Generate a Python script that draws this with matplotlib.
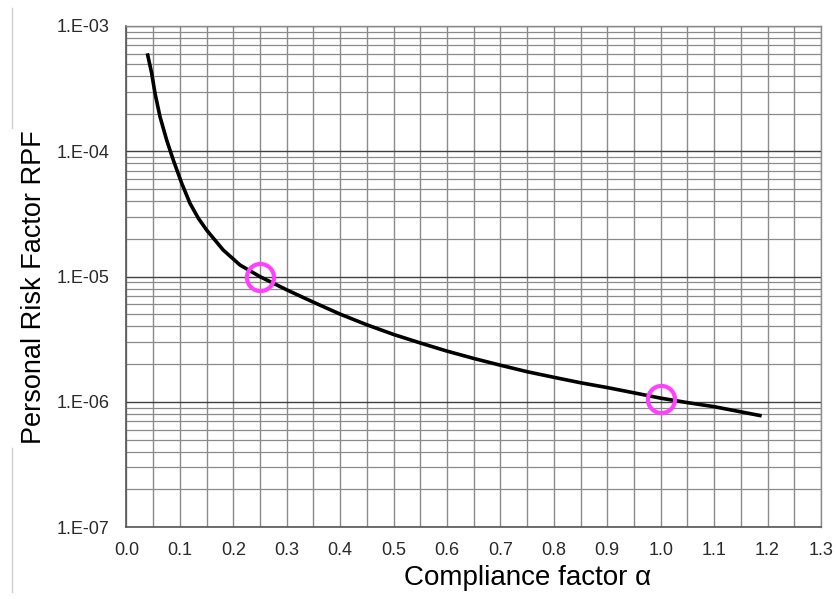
import matplotlib
matplotlib.use("Agg")
import matplotlib.pyplot as plt
from matplotlib.ticker import FixedLocator, MultipleLocator, LogLocator, NullFormatter
from matplotlib.lines import Line2D

plt.rcParams['font.family'] = ['Liberation Sans', 'DejaVu Sans']

# Curve
alpha = [0.039, 0.0472, 0.0534, 0.0627, 0.0753, 0.0876, 0.1034, 0.1189, 0.1345, 0.150,
         0.181, 0.2125, 0.25, 0.30, 0.35, 0.40, 0.45, 0.50, 0.55, 0.60,
         0.65, 0.70, 0.75, 0.80, 0.85, 0.90, 0.95, 1.00, 1.05, 1.10,
         1.15, 1.189]
rpf = [6.05e-4, 4.19e-4, 2.90e-4, 1.89e-4, 1.225e-4, 8.51e-5, 5.55e-5, 3.84e-5, 2.92e-5, 2.35e-5,
       1.63e-5, 1.236e-5, 9.98e-6, 7.83e-6, 6.24e-6, 5.01e-6, 4.12e-6, 3.45e-6, 2.95e-6, 2.54e-6,
       2.22e-6, 1.96e-6, 1.74e-6, 1.57e-6, 1.42e-6, 1.30e-6, 1.18e-6, 1.07e-6, 9.86e-7, 9.15e-7,
       8.32e-7, 7.73e-7]

# Highlighted points
mark_alpha = [0.25, 1.0]
mark_rpf = [1.0e-5, 1.05e-6]

xticks = [0.0, 0.1, 0.2, 0.3, 0.4, 0.5, 0.6, 0.7, 0.8, 0.9, 1.0, 1.1, 1.2, 1.3]
yticks = [1e-7, 1e-6, 1e-5, 1e-4, 1e-3]
ytick_labels = ["1.E-07", "1.E-06", "1.E-05", "1.E-04", "1.E-03"]

fig = plt.figure(figsize=(8.36, 5.99), dpi=100)
ax = fig.add_axes([0.1513, 0.120, 0.8307, 0.8366])

ax.plot(alpha, rpf, color='black', lw=2.6, solid_capstyle='butt', solid_joinstyle='round', zorder=3)
ax.plot(mark_alpha, mark_rpf, linestyle='none', marker='o', markersize=19.5,
        markerfacecolor='none', markeredgecolor='#ff40ff', markeredgewidth=3.0, zorder=4)

ax.set_yscale('log')
ax.set_xlim(0, 1.3)
ax.set_ylim(1e-7, 1e-3)

ax.xaxis.set_major_locator(FixedLocator(xticks))
ax.xaxis.set_minor_locator(MultipleLocator(0.05))
ax.set_xticklabels([f"{v:.1f}" for v in xticks])
ax.yaxis.set_major_locator(FixedLocator(yticks))
ax.set_yticklabels(ytick_labels)
ax.yaxis.set_minor_locator(LogLocator(base=10, subs=[2, 3, 4, 5, 6, 7, 8, 9]))
ax.yaxis.set_minor_formatter(NullFormatter())

ax.grid(which='major', axis='x', color='#8a8a8a', lw=1.0)
ax.grid(which='minor', axis='x', color='#8a8a8a', lw=1.0)
ax.grid(which='major', axis='y', color='#404040', lw=1.0)
ax.grid(which='minor', axis='y', color='#8a8a8a', lw=0.9)
ax.set_axisbelow(True)

ax.tick_params(which='both', length=0)
ax.tick_params(axis='y', pad=12, labelsize=13, labelcolor='#2a2a2a')
ax.tick_params(axis='x', pad=11, labelsize=13, labelcolor='#2a2a2a')

for side in ['left', 'bottom']:
    ax.spines[side].set_color('#555555')
    ax.spines[side].set_linewidth(1.2)
for side in ['top', 'right']:
    ax.spines[side].set_color('#8a8a8a')
    ax.spines[side].set_linewidth(1.0)

ax.set_xlabel("Compliance factor α", fontsize=20, labelpad=4)
ax.set_ylabel("Personal Risk Factor RPF", fontsize=19.5, labelpad=7)
ax.xaxis.label.set_x(0.577)
ax.yaxis.label.set_y(0.479)

# faint frame line at far left of the picture
fig.add_artist(Line2D([12/836, 12/836], [1 - 8/599, 1 - 128/599], transform=fig.transFigure, color='#d0d0d0', lw=1))
fig.add_artist(Line2D([12/836, 12/836], [1 - 448/599, 1 - 592/599], transform=fig.transFigure, color='#d0d0d0', lw=1))

fig.savefig("out.png", dpi=100)
